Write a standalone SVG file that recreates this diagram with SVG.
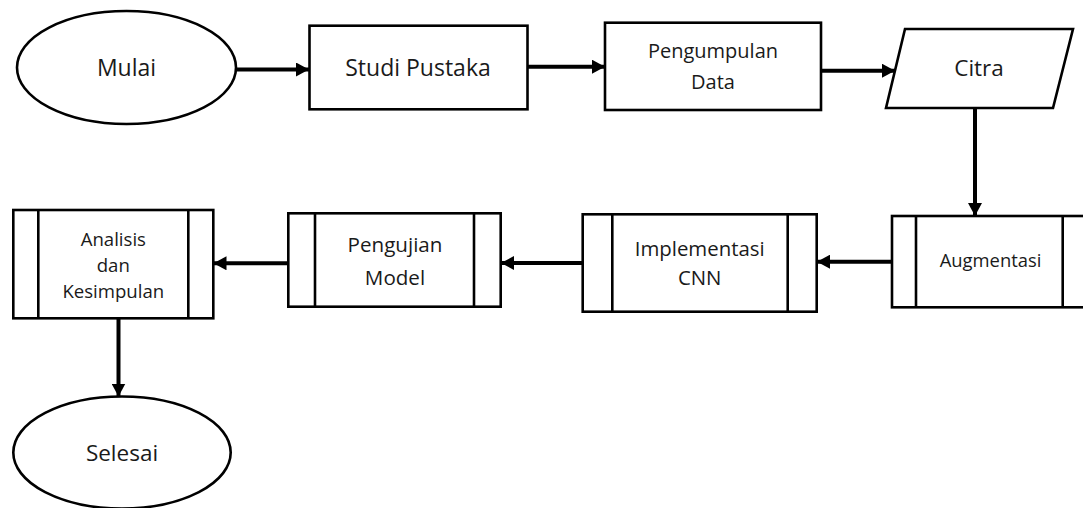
<svg xmlns="http://www.w3.org/2000/svg" width="1083" height="508" viewBox="0 0 1083 508">
  <style>
    .shape { fill: #ffffff; stroke: #000000; stroke-width: 2.6; }
    .bar { fill: none; stroke: #000000; stroke-width: 2.6; }
    .link { fill: none; stroke: #000000; stroke-width: 4; }
    .label { font-family: "Open Sans", "Liberation Sans", sans-serif; fill: #1a1a1a; text-anchor: middle; }
  </style>
  <defs>
    <marker id="head" viewBox="0 0 13 14" refX="13" refY="7" markerWidth="13" markerHeight="14" markerUnits="userSpaceOnUse" orient="auto">
      <path d="M0,0 L13,7 L0,14 Z" fill="#000000"/>
    </marker>
  </defs>
  <rect width="1083" height="508" fill="#ffffff"/>

  <!-- connectors -->
  <g id="connectors">
    <line class="link" x1="236" y1="69.5" x2="309" y2="69.5" marker-end="url(#head)"/>
    <line class="link" x1="528" y1="66.7" x2="605" y2="66.7" marker-end="url(#head)"/>
    <line class="link" x1="821" y1="70.7" x2="895" y2="70.7" marker-end="url(#head)"/>
    <line class="link" x1="975" y1="108" x2="975" y2="216" marker-end="url(#head)"/>
    <line class="link" x1="892" y1="261.7" x2="817" y2="261.7" marker-end="url(#head)"/>
    <line class="link" x1="583" y1="263" x2="501" y2="263" marker-end="url(#head)"/>
    <line class="link" x1="288" y1="263.3" x2="213.5" y2="263.3" marker-end="url(#head)"/>
    <line class="link" x1="118.5" y1="318" x2="118.5" y2="396.5" marker-end="url(#head)"/>
  </g>

  <!-- start -->
  <g id="mulai">
    <ellipse class="shape" cx="126.5" cy="67.5" rx="109.5" ry="56.5"/>
    <text class="label" x="126.5" y="76" font-size="23">Mulai</text>
  </g>

  <g id="studi-pustaka">
    <rect class="shape" x="309.5" y="25.7" width="218" height="83.6"/>
    <text class="label" x="418" y="76" font-size="23">Studi Pustaka</text>
  </g>

  <g id="pengumpulan-data">
    <rect class="shape" x="605" y="22.7" width="216" height="87.3"/>
    <text class="label" x="713" y="58" font-size="20">Pengumpulan</text>
    <text class="label" x="713" y="89" font-size="20">Data</text>
  </g>

  <g id="citra">
    <polygon class="shape" points="905,29 1073,29 1053,108 886,108"/>
    <text class="label" x="979" y="76" font-size="22.5">Citra</text>
  </g>

  <!-- predefined-process boxes -->
  <g id="augmentasi">
    <rect class="shape" x="892" y="216" width="196" height="91.3"/>
    <line class="bar" x1="916" y1="216" x2="916" y2="307.3"/>
    <line class="bar" x1="1062.7" y1="216" x2="1062.7" y2="307.3"/>
    <text class="label" x="990.5" y="267" font-size="18.4">Augmentasi</text>
  </g>

  <g id="implementasi-cnn">
    <rect class="shape" x="582.7" y="214.3" width="234" height="97.4"/>
    <line class="bar" x1="612.3" y1="214.3" x2="612.3" y2="311.7"/>
    <line class="bar" x1="787.7" y1="214.3" x2="787.7" y2="311.7"/>
    <text class="label" x="699.7" y="256" font-size="20.4">Implementasi</text>
    <text class="label" x="699.7" y="285" font-size="20.4">CNN</text>
  </g>

  <g id="pengujian-model">
    <rect class="shape" x="288.3" y="213.3" width="212.4" height="93.4"/>
    <line class="bar" x1="315" y1="213.3" x2="315" y2="306.7"/>
    <line class="bar" x1="474" y1="213.3" x2="474" y2="306.7"/>
    <text class="label" x="395" y="252" font-size="20.6">Pengujian</text>
    <text class="label" x="395" y="284.5" font-size="20.6">Model</text>
  </g>

  <g id="analisis-kesimpulan">
    <rect class="shape" x="13.3" y="210" width="200" height="108.3"/>
    <line class="bar" x1="38.3" y1="210" x2="38.3" y2="318.3"/>
    <line class="bar" x1="188.3" y1="210" x2="188.3" y2="318.3"/>
    <text class="label" x="113.3" y="246" font-size="18.6">Analisis</text>
    <text class="label" x="113.3" y="272" font-size="18.6">dan</text>
    <text class="label" x="113.3" y="298" font-size="18.6">Kesimpulan</text>
  </g>

  <!-- end -->
  <g id="selesai">
    <ellipse class="shape" cx="122" cy="452.5" rx="108.7" ry="56"/>
    <text class="label" x="122" y="460.5" font-size="22.5">Selesai</text>
  </g>
</svg>
